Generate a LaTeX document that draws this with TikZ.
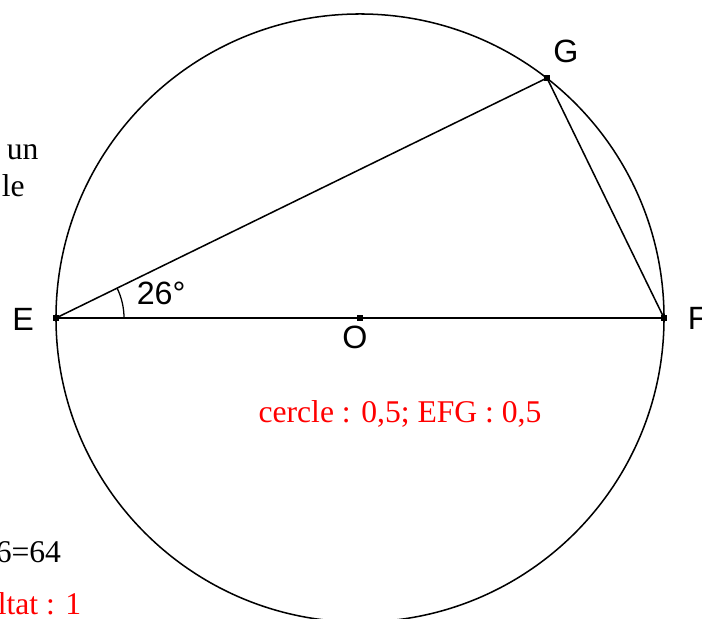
\documentclass[tikz,border=0pt]{standalone}
\usepackage{fontspec}
\setmainfont{Liberation Serif}
\newfontfamily\labelfont{Liberation Sans}
\usetikzlibrary{angles}

\begin{document}
\begin{tikzpicture}[x=0.03cm, y=0.03cm, line width=1.3pt,
  every node/.style={inner sep=0pt},
  pt/.style={fill, rectangle, minimum size=4.3pt},
  lbl/.style={font=\labelfont\fontsize{27.5}{32}\selectfont},
  txt/.style={font=\fontsize{27}{32}\selectfont, anchor=base west}]
  \useasboundingbox (0,0) rectangle (702,619);
  \clip (0,0) rectangle (702,619);
  % points
  \node[pt] (O) at (360,301) {};
  \node[pt] (E) at (56,301) {};
  \node[pt] (F) at (664,301) {};
  \node[pt] (G) at (547,541) {};
  \draw (O.center) circle[radius=9.12cm];
  \draw (E.center) -- (F.center);
  \draw (E.center) -- (G.center) -- (F.center);
  \pic[draw, line width=1.1pt, angle radius=2.04cm] {angle=F--E--G};
  % labels
  \node[lbl, anchor=base] (lE) at (23,288) {E};
  \node[lbl, anchor=base west] (lF) at (687,289) {F};
  \node[lbl, anchor=base] (lG) at (566,556) {G};
  \node[lbl, anchor=base] (lO) at (355,270) {O};
  \node[lbl, anchor=base west] (ang) at (136,314) {26°};
  \node[txt, anchor=base, text=red] (bareme) at (400,196) {cercle : 0,5; EFG : 0,5};
  % bits of the page text
  \node[txt] (t1) at (6,459) {un};
  \node[txt] (t2) at (1,422) {le};
  \node[txt] (t3) at (-5,56) {6=64};
  \node[txt, text=red] (t4) at (-3,4) {ltat : 1};
\end{tikzpicture}
\end{document}
